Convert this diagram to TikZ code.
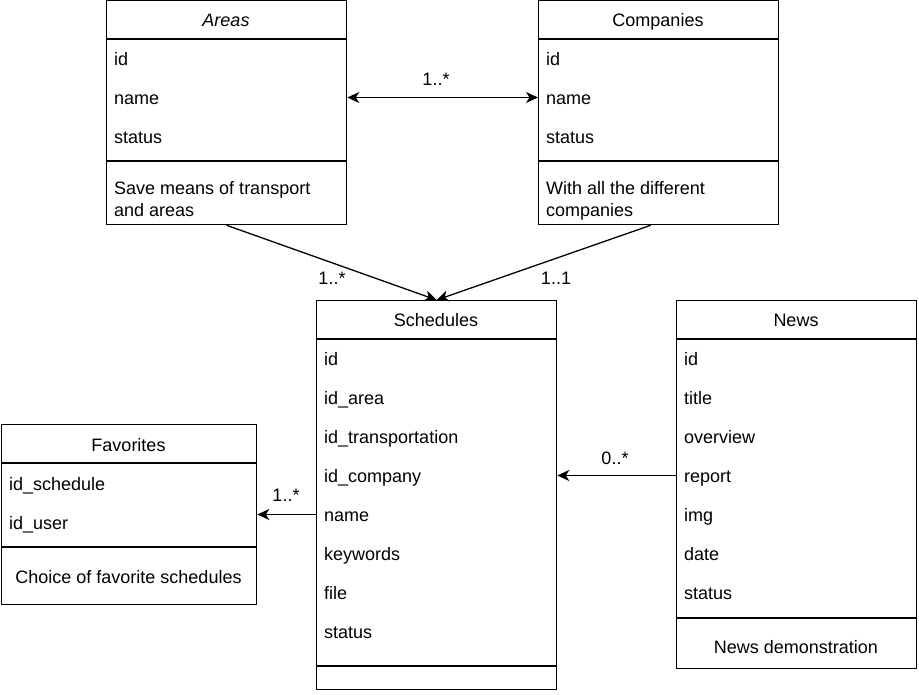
\documentclass[tikz,border=0pt]{standalone}
\usepackage{fontspec}
\setmainfont{Liberation Sans}
\usetikzlibrary{arrows.meta}
\begin{document}
\begin{tikzpicture}[x=1pt,y=-1pt,
  box/.style={draw,line width=1.3pt,inner sep=0pt,anchor=north west},
  sep/.style={line width=1.3pt},
  row/.style={anchor=west,inner sep=0pt,text height=17.2pt,text depth=3.2pt,font=\fontsize{18}{21.6}\selectfont},
  hdr/.style={inner sep=0pt,text height=17.2pt,text depth=3.2pt,font=\fontsize{18}{21.6}\selectfont},
  lbl/.style={inner sep=0pt,text height=17.2pt,text depth=3.2pt,font=\fontsize{18}{21.6}\selectfont},
  tip/.tip={Stealth[length=12pt,width=11pt,inset=3.5pt]},
  conn/.style={line width=1.3pt,-tip},
  conn2/.style={line width=1.3pt,tip-tip}
]
\useasboundingbox (0,0) rectangle (919,695);

% Areas
\node[box,minimum width=240pt,minimum height=224pt] (areas) at (106,0) {};
\draw[sep] (106,39) -- (346,39);
\draw[sep] (106,161) -- (346,161);
\node[hdr] (areasT) at (226,19.5) {\itshape Areas};
\node[row] (a1) at (114,58.5) {id};
\node[row] (a2) at (114,97.5) {name};
\node[row] (a3) at (114,136.5) {status};
\node[row] (ad1) at (114,187.5) {Save means of transport};
\node[row] (ad2) at (114,209.5) {and areas};

% Companies
\node[box,minimum width=240pt,minimum height=224pt] (comp) at (538,0) {};
\draw[sep] (538,39) -- (778,39);
\draw[sep] (538,161) -- (778,161);
\node[hdr] (compT) at (658,19.5) {Companies};
\node[row] (c1) at (546,58.5) {id};
\node[row] (c2) at (546,97.5) {name};
\node[row] (c3) at (546,136.5) {status};
\node[row] (cd1) at (546,187.5) {With all the different};
\node[row] (cd2) at (546,209.5) {companies};

% Schedules
\node[box,minimum width=240pt,minimum height=389pt] (sch) at (316,300) {};
\draw[sep] (316,339) -- (556,339);
\draw[sep] (316,666) -- (556,666);
\node[hdr] (schT) at (436,319.5) {Schedules};
\node[row] (s1) at (324,358.5) {id};
\node[row] (s2) at (324,397.5) {id\_area};
\node[row] (s3) at (324,436.5) {id\_transportation};
\node[row] (s4) at (324,475.5) {id\_company};
\node[row] (s5) at (324,514.5) {name};
\node[row] (s6) at (324,553.5) {keywords};
\node[row] (s7) at (324,592.5) {file};
\node[row] (s8) at (324,631.5) {status};

% News
\node[box,minimum width=240pt,minimum height=368pt] (news) at (676,300) {};
\draw[sep] (676,339) -- (916,339);
\draw[sep] (676,618) -- (916,618);
\node[hdr] (newsT) at (796,319.5) {News};
\node[row] (n1) at (684,358.5) {id};
\node[row] (n2) at (684,397.5) {title};
\node[row] (n3) at (684,436.5) {overview};
\node[row] (n4) at (684,475.5) {report};
\node[row] (n5) at (684,514.5) {img};
\node[row] (n6) at (684,553.5) {date};
\node[row] (n7) at (684,592.5) {status};
\node[hdr] (nd) at (796,646) {News demonstration};

% Favorites
\node[box,minimum width=255pt,minimum height=180pt] (fav) at (1,424) {};
\draw[sep] (1,463) -- (256,463);
\draw[sep] (1,547) -- (256,547);
\node[hdr] (favT) at (128.5,444.5) {Favorites};
\node[row] (f1) at (9,483.5) {id\_schedule};
\node[row] (f2) at (9,522.5) {id\_user};
\node[hdr] (fd) at (128.5,576.5) {Choice of favorite schedules};

% Connectors
\draw[conn2] (a2 -| areas.east) -- (a2 -| comp.west);
\node[lbl] (l1) at (436,78.5) {1..*};
\draw[conn] (areas.south) -- (sch.north);
\node[lbl] (l2) at (332,277.5) {1..*};
\draw[conn] ([xshift=-8pt]comp.south) -- (sch.north);
\node[lbl] (l3) at (556,277.5) {1..1};
\draw[conn] (n4 -| news.west) -- (n4 -| sch.east);
\node[lbl] (l4) at (615,457.5) {0..*};
\draw[conn] (s5 -| sch.west) -- (s5 -| fav.east);
\node[lbl] (l5) at (286,494.5) {1..*};
\end{tikzpicture}
\end{document}
